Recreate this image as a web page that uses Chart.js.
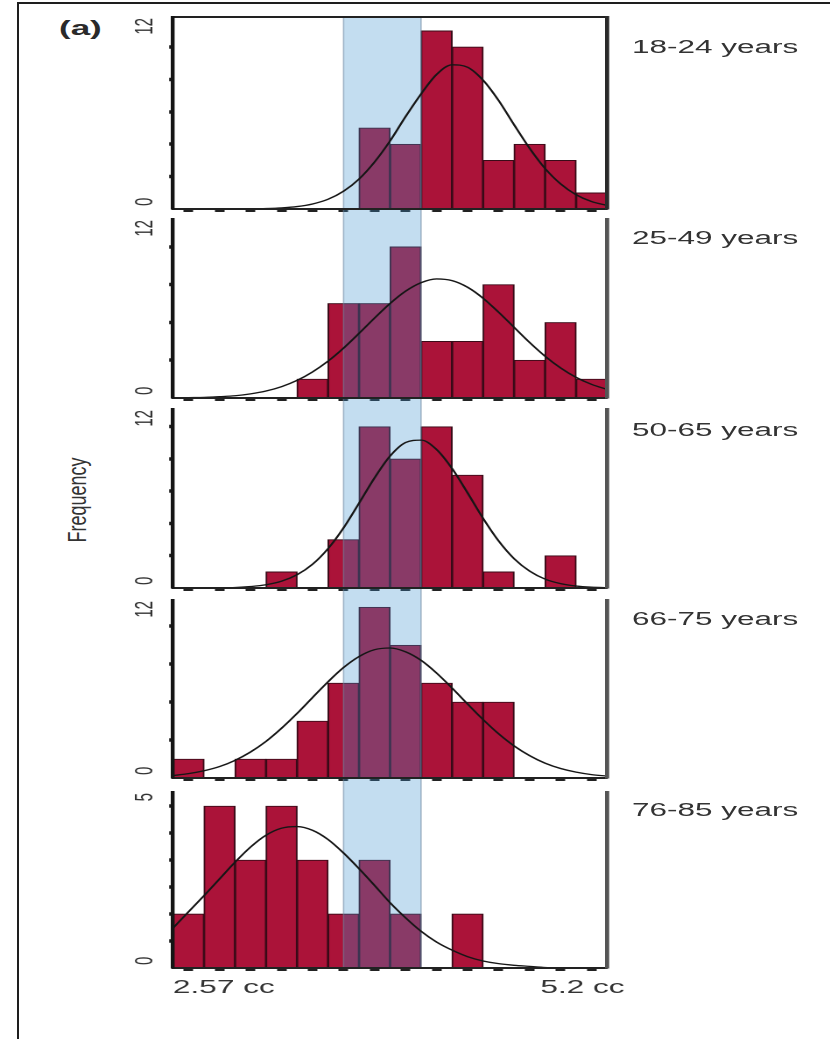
<!DOCTYPE html>
<html>
<head>
<meta charset="utf-8">
<script src="https://cdn.jsdelivr.net/npm/chart.js@4.4.1/dist/chart.umd.min.js"></script>
<style>
  html, body { margin: 0; padding: 0; background: #fff; }
  #fig { position: relative; width: 830px; height: 1039px; overflow: hidden; background: #fff; }
  #frame { position: absolute; left: 17px; top: 2px; width: 830px; height: 1060px;
           border-left: 2px solid #1e1e1e; border-top: 2px solid #1e1e1e; }
  canvas.panel { position: absolute; left: 0; }
  .txt { position: absolute; font-family: "Liberation Sans", Arial, sans-serif; color: #333;
         white-space: nowrap; transform-origin: 0 50%; transform: scaleX(1.75); }
  .age { font-size: 18px; line-height: 18px; left: 632px; }
  #tag { left: 59px; top: 18px; font-size: 20px; line-height: 20px; font-weight: bold; color: #2a2a2a; }
  #ylab { left: 17px; top: 488px; width: 120px; height: 24px; line-height: 24px; font-size: 18px;
          text-align: center; transform-origin: 50% 50%; transform: scaleX(1.45) rotate(-90deg); }
</style>
</head>
<body>
<div id="fig">
  <div id="frame"></div>
  <div class="txt" id="tag">(a)</div>
  <div class="txt" id="ylab">Frequency</div>
</div>
<script>
// 14 equal-width volume classes, shared by every age group
const binLabels = ['1', '2', '3', '4', '5', '6', '7', '8', '9', '10', '11', '12', '13', '14'];
const ageGroups = ['18-24 years', '25-49 years', '50-65 years', '66-75 years', '76-85 years'];

// frequencies per class
const counts1824 = [0, 0, 0, 0, 0, 0, 5, 4, 11, 10, 3, 4, 3, 1];
const counts2549 = [0, 0, 0, 0, 1, 5, 5, 8, 3, 3, 6, 2, 4, 1];
const counts5065 = [0, 0, 0, 1, 0, 3, 10, 8, 10, 7, 1, 0, 2, 0];
const counts6675 = [1, 0, 1, 1, 3, 5, 9, 7, 5, 4, 4, 0, 0, 0];
const counts7685 = [1, 3, 2, 3, 2, 1, 2, 1, 0, 1, 0, 0, 0, 0];

// fitted normal curves, sampled every half class
const curveX = [0, 0.5, 1, 1.5, 2, 2.5, 3, 3.5, 4, 4.5, 5, 5.5, 6, 6.5, 7, 7.5, 8, 8.5, 9, 9.5, 10, 10.5, 11, 11.5, 12, 12.5, 13, 13.5, 14];
const fit1824 = [0, 0, 0, 0, 0, 0.01, 0.03, 0.07, 0.15, 0.31, 0.6, 1.1, 1.85, 2.9, 4.2, 5.7, 7.1, 8.3, 8.9, 8.75, 7.95, 6.7, 5.2, 3.75, 2.5, 1.55, 0.88, 0.46, 0.22];
const fit2549 = [0.01, 0.02, 0.03, 0.07, 0.12, 0.22, 0.37, 0.6, 0.93, 1.38, 1.95, 2.64, 3.42, 4.23, 5.0, 5.65, 6.1, 6.3, 6.21, 5.86, 5.28, 4.54, 3.74, 2.94, 2.21, 1.59, 1.09, 0.72, 0.45];
const fit5065 = [0, 0, 0, 0.01, 0.03, 0.09, 0.2, 0.42, 0.82, 1.47, 2.44, 3.73, 5.26, 6.83, 8.18, 9.02, 9.17, 8.59, 7.41, 5.9, 4.32, 2.92, 1.82, 1.05, 0.55, 0.27, 0.12, 0.05, 0.02];
const fit6675 = [0.13, 0.23, 0.38, 0.6, 0.93, 1.37, 1.93, 2.62, 3.4, 4.24, 5.07, 5.82, 6.4, 6.76, 6.85, 6.65, 6.2, 5.53, 4.74, 3.9, 3.08, 2.33, 1.69, 1.18, 0.78, 0.5, 0.31, 0.18, 0.1];
const fit7685 = [0.74, 1.04, 1.34, 1.65, 1.96, 2.24, 2.46, 2.59, 2.62, 2.55, 2.38, 2.13, 1.84, 1.53, 1.21, 0.93, 0.68, 0.48, 0.33, 0.21, 0.13, 0.08, 0.05, 0.03, 0.01, 0, 0, 0, 0];

// y range shown in each panel and the spacing of its tick marks
const yMax = [11.85, 9.47, 11.1, 9.38, 3.26];
const yStep = [2, 2, 2, 2, 0.5];
const yTopLabels = ['12', '12', '12', '12', '5'];
const yBottomLabel = '0';

// reference interval (in classes) shaded across all panels
const bandRange = [5.5, 8.0];

// x-axis end labels
const xTickValues = [0, 11.85];
const xTickLabels = ['2.57 cc', '5.2 cc'];

const allCounts = [counts1824, counts2549, counts5065, counts6675, counts7685];
const allFits = [fit1824, fit2549, fit5065, fit6675, fit7685];

// canvas rows: the drawing is done 474px wide and stretched to 830px
const W = 474;
const rows = [
  { top: 0,   height: 214, pad: 17, label: 47 },
  { top: 214, height: 189, pad: 5,  label: 238 },
  { top: 403, height: 190, pad: 6,  label: 430 },
  { top: 593, height: 190, pad: 7,  label: 619 },
  { top: 783, height: 256, pad: 9,  label: 810 }
];

Chart.defaults.font.family = '"Liberation Sans", Arial, sans-serif';
Chart.defaults.color = '#333';

// shaded band (over the bars, under the curve) and rotated y end labels
const panelDecor = {
  id: 'panelDecor',
  afterDatasetDraw(chart, args, opts) {
    if (args.index !== 0) return;
    const {ctx, chartArea} = chart;
    const xs = chart.scales.xc;
    const x0 = xs.getPixelForValue(bandRange[0]);
    const x1 = xs.getPixelForValue(bandRange[1]);
    const top = opts.first ? chartArea.top : 0;
    const bottom = opts.last ? chartArea.bottom : chart.height;
    ctx.save();
    ctx.fillStyle = 'rgba(62, 145, 205, 0.31)';
    ctx.fillRect(x0, top, x1 - x0, bottom - top);
    ctx.strokeStyle = 'rgba(110, 135, 160, 0.55)';
    ctx.lineWidth = 0.8;
    ctx.beginPath();
    ctx.moveTo(x0, top); ctx.lineTo(x0, bottom);
    ctx.moveTo(x1, top); ctx.lineTo(x1, bottom);
    ctx.stroke();
    ctx.restore();
  },
  afterDraw(chart, args, opts) {
    const {ctx, chartArea} = chart;
    const x = chartArea.left - 16;
    ctx.save();
    ctx.font = '15px "Liberation Sans", Arial, sans-serif';
    ctx.fillStyle = '#333';
    ctx.textBaseline = 'middle';
    ctx.save();
    ctx.translate(x, chartArea.top + 1);
    ctx.rotate(-Math.PI / 2);
    ctx.textAlign = 'right';
    ctx.fillText(opts.topLabel, 0, 0);
    ctx.restore();
    ctx.translate(x, chartArea.bottom - 3);
    ctx.rotate(-Math.PI / 2);
    ctx.textAlign = 'left';
    ctx.fillText(yBottomLabel, 0, 0);
    ctx.restore();
  }
};

const fig = document.getElementById('fig');

rows.forEach((row, i) => {
  const first = i === 0;
  const last = i === rows.length - 1;

  const cv = document.createElement('canvas');
  cv.className = 'panel';
  cv.width = W;
  cv.height = row.height;
  cv.style.top = row.top + 'px';
  cv.style.width = '830px';
  cv.style.height = row.height + 'px';
  fig.appendChild(cv);

  const lab = document.createElement('div');
  lab.className = 'txt age';
  lab.textContent = ageGroups[i];
  lab.style.top = (row.label - 9) + 'px';
  fig.appendChild(lab);

  new Chart(cv, {
    type: 'bar',
    data: {
      labels: binLabels,
      datasets: [
        {
          data: allCounts[i],
          backgroundColor: '#ab1339',
          borderColor: '#3a0b18',
          borderWidth: 1,
          borderSkipped: 'start',
          barPercentage: 1,
          categoryPercentage: 1,
          grouped: false,
          order: 2
        },
        {
          type: 'line',
          data: curveX.map((x, k) => ({x: x, y: allFits[i][k]})),
          xAxisID: 'xc',
          borderColor: '#161616',
          borderWidth: 1.3,
          pointRadius: 0,
          cubicInterpolationMode: 'monotone',
          fill: false,
          order: 1
        }
      ]
    },
    options: {
      responsive: false,
      animation: false,
      devicePixelRatio: 2,
      layout: { padding: { top: row.pad, left: 0, right: 0, bottom: 0 } },
      events: [],
      plugins: {
        legend: { display: false },
        tooltip: { enabled: false },
        panelDecor: { first: first, last: last, topLabel: yTopLabels[i] }
      },
      scales: {
        x: {
          type: 'category',
          position: 'bottom',
          offset: true,
          weight: 0,
          ticks: { display: false },
          grid: { drawOnChartArea: false, offset: false, tickLength: 3, tickWidth: 5.5, tickColor: '#222' },
          border: { color: '#222', width: 2, z: 1 },
          afterFit: s => { s.height = 5; }
        },
        xc: {
          type: 'linear',
          position: 'bottom',
          weight: 1,
          offset: false,
          min: 0,
          max: 14,
          display: last,
          afterBuildTicks: s => { s.ticks = xTickValues.map(v => ({value: v})); },
          ticks: {
            autoSkip: false,
            maxRotation: 0,
            align: 'start',
            padding: 4,
            color: '#333',
            font: { size: 18 },
            callback: (v, k) => xTickLabels[k]
          },
          grid: { display: false, drawTicks: false },
          border: { display: false },
          afterFit: s => { s.height = last ? 66 : 0; }
        },
        xt: {
          type: 'linear',
          position: 'top',
          offset: false,
          display: first,
          ticks: { display: false },
          grid: { display: false, drawTicks: false },
          border: { color: '#222', width: 2, z: 1 },
          afterFit: s => { s.height = 0; }
        },
        y: {
          type: 'linear',
          position: 'left',
          min: 0,
          max: yMax[i],
          afterBuildTicks: s => {
            s.ticks = s.ticks.filter(t => t.value > 0 && t.value < yMax[i] - 0.05);
          },
          ticks: { display: false, stepSize: yStep[i] },
          grid: { drawOnChartArea: false, tickLength: 2.2, tickWidth: 3.5, tickColor: '#1a1a1a' },
          border: { color: '#151515', width: 2.2, z: 1 },
          afterFit: s => { s.width = 98.8; }
        },
        yr: {
          type: 'linear',
          position: 'right',
          display: true,
          ticks: { display: false },
          grid: { display: false, drawTicks: false },
          border: { color: first ? '#2a2a2a' : '#555', width: 2.4, z: 1 },
          afterFit: s => { s.width = W - 346.7; }
        }
      }
    },
    plugins: [panelDecor]
  });
});
</script>
</body>
</html>
